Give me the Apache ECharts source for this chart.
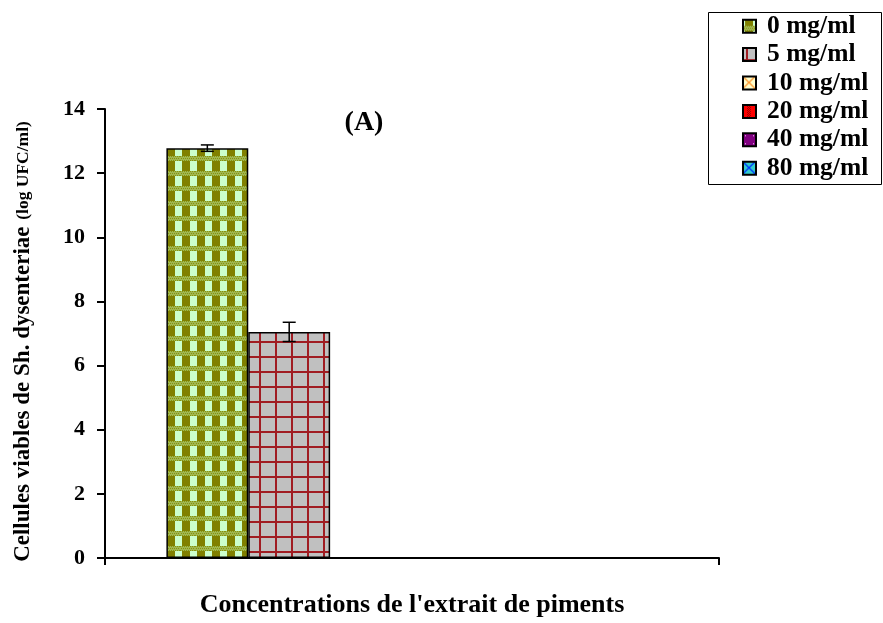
<!DOCTYPE html>
<html>
<head>
<meta charset="utf-8">
<script src="https://cdn.jsdelivr.net/npm/echarts@6/dist/echarts.min.js"></script>
<style>html,body{margin:0;padding:0;background:#fff}#c{width:883px;height:623px}</style>
</head>
<body>
<div id="c"></div>
<script>
// ---- data ----
const categories = [''];
const seriesNames = ['0 mg/ml', '5 mg/ml', '10 mg/ml', '20 mg/ml', '40 mg/ml', '80 mg/ml'];
const means = [12.78, 7.05, null, null, null, null];
const errors = [0.1, 0.3, null, null, null, null];
const yMin = 0, yMax = 14, yStep = 2;
const chartTitle = '(A)';
const xTitle = "Concentrations de l'extrait de piments";
const yTitleMain = 'Cellules viables de Sh. dysenteriae';
const yTitleUnit = '(log UFC/ml)';

// ---- fill patterns ----
function tile(w, h, draw) {
  const c = document.createElement('canvas');
  c.width = w; c.height = h;
  draw(c.getContext('2d'));
  return c;
}
const pat0 = tile(15, 15, ctx => {
  ctx.fillStyle = '#ccffcc'; ctx.fillRect(0, 0, 15, 15);
  ctx.fillStyle = '#808000'; ctx.fillRect(2, 0, 8, 15);
  ctx.fillStyle = '#a0b650'; ctx.fillRect(0, 6, 15, 5);
  ctx.fillStyle = '#86940e';
  for (let y = 6; y <= 10; y += 2) for (let x = (y % 4 === 2 ? 0 : 1); x < 15; x += 2) ctx.fillRect(x, y, 1, 1);
});
const pat1 = tile(16, 15, ctx => {
  ctx.fillStyle = '#c0c0c0'; ctx.fillRect(0, 0, 16, 15);
  ctx.fillStyle = '#a01c22';
  ctx.fillRect(3, 0, 2, 15);
  ctx.fillRect(0, 11, 16, 2);
});
const pat2 = tile(12, 12, ctx => {
  ctx.fillStyle = '#ffffcc'; ctx.fillRect(0, 0, 12, 12);
  ctx.strokeStyle = '#ff9933'; ctx.lineWidth = 1.3;
  ctx.beginPath(); ctx.moveTo(0, 0); ctx.lineTo(12, 12); ctx.moveTo(12, 0); ctx.lineTo(0, 12); ctx.stroke();
});
const pat3 = tile(8, 8, ctx => {
  ctx.fillStyle = '#ff0000'; ctx.fillRect(0, 0, 8, 8);
  ctx.fillStyle = '#a00000';
  for (let y = 0; y < 8; y++) for (let x = 4; x < 8; x++) if ((x + y) % 2) ctx.fillRect(x, y, 1, 1);
});
const pat4 = tile(8, 8, ctx => {
  ctx.fillStyle = '#800080'; ctx.fillRect(0, 0, 8, 8);
  ctx.fillStyle = '#ffccff'; ctx.fillRect(2, 2, 1, 1);
});
const pat5 = tile(12, 12, ctx => {
  ctx.fillStyle = '#33cccc'; ctx.fillRect(0, 0, 12, 12);
  ctx.strokeStyle = '#0033ff'; ctx.lineWidth = 1.3;
  ctx.beginPath(); ctx.moveTo(0, 0); ctx.lineTo(12, 12); ctx.moveTo(12, 0); ctx.lineTo(0, 12); ctx.stroke();
});
const patterns = [pat0, pat1, pat2, pat3, pat4, pat5];

const FONT = '"Liberation Serif", "Times New Roman", serif';
const nSeries = seriesNames.length;
const catGap = 0.2;

const barSeries = seriesNames.map((name, i) => ({
  name: name,
  type: 'bar',
  barGap: '0%',
  barCategoryGap: (catGap * 100) + '%',
  data: [means[i] == null ? '-' : means[i]],
  itemStyle: {
    color: { image: patterns[i], repeat: 'repeat' },
    borderColor: '#000',
    borderWidth: 1.5
  },
  emphasis: { disabled: true },
  z: 2
}));

const errData = [];
means.forEach((m, i) => { if (m != null && errors[i] != null) errData.push([0, m, errors[i], i]); });

const errSeries = {
  name: 'err',
  type: 'custom',
  z: 5,
  silent: true,
  data: errData,
  encode: { x: 0, y: 1 },
  renderItem: function (params, api) {
    const v = api.value(1), e = api.value(2), si = api.value(3);
    const band = api.size([1, 0])[0];
    const bw = band * (1 - catGap) / nSeries;
    const c = api.coord([api.value(0), v]);
    const x = c[0] + (si - (nSeries - 1) / 2) * bw;
    const top = api.coord([api.value(0), v + e])[1];
    const bot = api.coord([api.value(0), v - e])[1];
    const hw = 6.5;
    const st = { stroke: '#000', lineWidth: 1.5 };
    return {
      type: 'group',
      children: [
        { type: 'line', shape: { x1: x, y1: top, x2: x, y2: bot }, style: st },
        { type: 'line', shape: { x1: x - hw, y1: top, x2: x + hw, y2: top }, style: st },
        { type: 'line', shape: { x1: x - hw, y1: bot, x2: x + hw, y2: bot }, style: st }
      ]
    };
  }
};

const chart = echarts.init(document.getElementById('c'), null, { renderer: 'canvas' });
chart.setOption({
  animation: false,
  backgroundColor: '#fff',
  title: {
    text: chartTitle,
    left: 359, top: 104, textAlign: 'center',
    textStyle: { fontFamily: FONT, fontWeight: 'bold', fontSize: 28, color: '#000' }
  },
  legend: {
    data: seriesNames,
    orient: 'vertical',
    left: 742, top: 12,
    padding: 0,
    itemGap: 0,
    itemWidth: 13, itemHeight: 13,
    icon: 'rect',
    selectedMode: false,
    formatter: function (n) { return '{g|}' + n; },
    textStyle: {
      fontFamily: FONT, fontWeight: 'bold', fontSize: 25.5, lineHeight: 28.4, color: '#000',
      rich: { g: { width: 6, fontSize: 25.5, lineHeight: 28.4 } }
    }
  },
  graphic: [{
    type: 'rect',
    shape: { x: 708.5, y: 12.5, width: 173, height: 172 },
    style: { fill: 'none', stroke: '#000', lineWidth: 1 },
    z: 10
  }],
  grid: { left: 105, right: 164, top: 109, bottom: 64, containLabel: false },
  xAxis: {
    type: 'category',
    data: categories,
    name: xTitle,
    nameLocation: 'middle',
    nameGap: 34,
    nameTextStyle: { fontFamily: FONT, fontWeight: 'bold', fontSize: 26, color: '#000' },
    axisLine: { show: true, lineStyle: { color: '#000', width: 2 } },
    axisTick: { show: true, alignWithLabel: false, interval: 0, length: 7, lineStyle: { color: '#000', width: 2 } },
    axisLabel: { show: false },
    splitLine: { show: false }
  },
  yAxis: {
    type: 'value',
    min: yMin, max: yMax, interval: yStep,
    name: '{a|' + yTitleMain + '}  {b|' + yTitleUnit + '}{s|}',
    nameLocation: 'middle',
    nameGap: 70,
    nameTextStyle: {
      color: '#000',
      rich: {
        a: { fontFamily: FONT, fontWeight: 'bold', fontSize: 23, color: '#000' },
        b: { fontFamily: FONT, fontWeight: 'bold', fontSize: 17.5, color: '#000' },
        s: { width: 16 }
      }
    },
    axisLine: { show: true, lineStyle: { color: '#000', width: 2 } },
    axisTick: { show: true, length: 8, lineStyle: { color: '#000', width: 2 } },
    axisLabel: { margin: 20, fontFamily: FONT, fontWeight: 'bold', fontSize: 22, color: '#000' },
    splitLine: { show: false }
  },
  series: barSeries.concat([errSeries])
});
</script>
</body>
</html>
